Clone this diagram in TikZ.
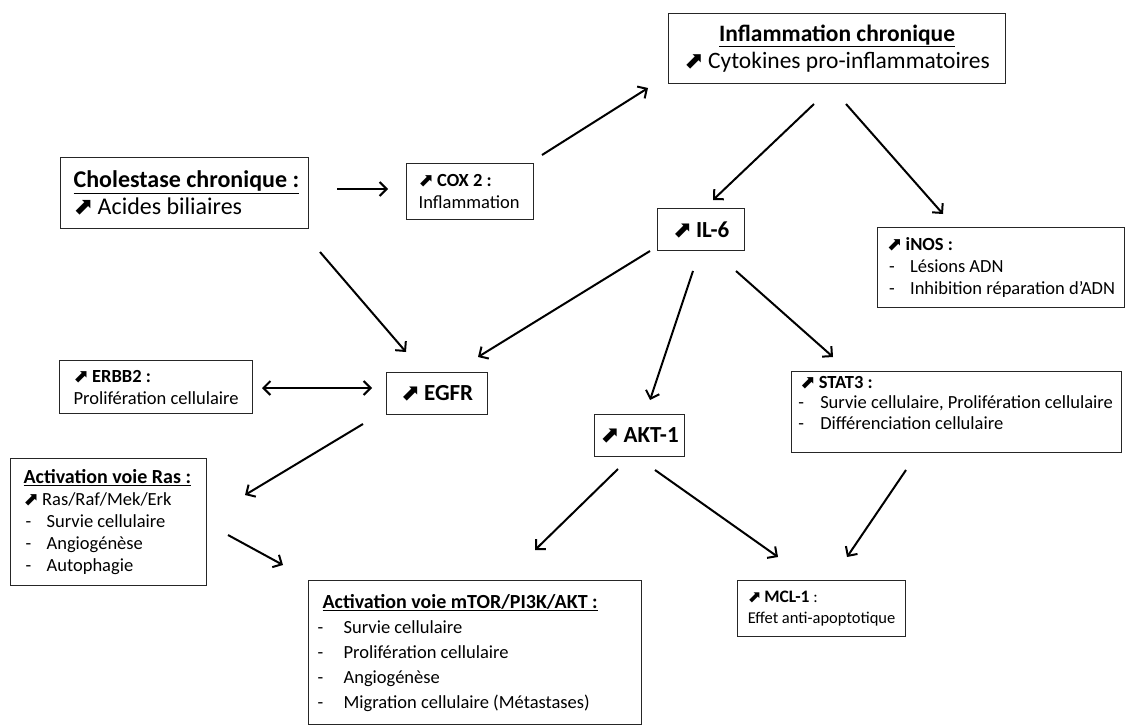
\documentclass[tikz,border=0pt]{standalone}
\usepackage{fontspec}
\setmainfont{Carlito}
\newfontfamily\symfont{DejaVu Sans}
\usetikzlibrary{arrows.meta}
\newcommand{\upar}{{\symfont ⬈}\,}
\newcommand{\fontXL}{\fontsize{24}{27}\selectfont}
\newcommand{\fontL}{\fontsize{23.5}{27}\selectfont}
\newcommand{\fontB}{\fontsize{23}{27}\selectfont}
\newcommand{\fontM}{\fontsize{20}{25}\selectfont}
\newcommand{\fontS}{\fontsize{18.5}{22}\selectfont}
\newcommand{\itm}{\hspace*{2pt}\makebox[21pt][l]{-}}
\begin{document}
\begin{tikzpicture}[x=1pt,y=-1pt,
  box/.style={draw=black!85, line width=1.2pt, anchor=north west, inner ysep=0pt, align=flush left},
  conn/.style={line width=2pt, -{Straight Barb[length=7pt,width=14pt]}},
  conn2/.style={line width=2pt, {Straight Barb[length=7pt,width=14pt]}-{Straight Barb[length=7pt,width=14pt]}}]
\useasboundingbox (0,0) rectangle (1130,725);

\node[box, font=\fontXL, inner xsep=13pt, text width=222pt, minimum height=71pt] (chol) at (60,157)
  {\underline{\textbf{Cholestase chronique :}}\\ \upar Acides biliaires};
\node[box, font=\fontS, inner xsep=12pt, text width=103pt, minimum height=56pt] (cox) at (406,163)
  {\upar\textbf{COX 2 :}\\ Inflammation};
\node[box, font=\fontL, align=flush center, inner xsep=4pt, text width=329pt, minimum height=70pt] (infl) at (668,13)
  {\underline{\textbf{Inflammation chronique}}\\ \upar Cytokines pro-inflammatoires};
\node[box, font=\fontB, align=flush center, inner xsep=2pt, text width=83pt, minimum height=42pt] (il6) at (657,208)
  {\upar\textbf{IL-6}};
\node[box, font=\fontS, inner xsep=8pt, minimum width=247pt, minimum height=80pt] (inos) at (877,227)
  {\upar\textbf{iNOS :}\\ \itm Lésions ADN\\ \itm Inhibition réparation d’ADN};
\node[box, font=\fontS, inner xsep=8pt, minimum width=193pt, minimum height=53pt] (erbb) at (59,360)
  {\upar\textbf{ERBB2 :}\\ Prolifération cellulaire};
\node[box, font=\fontB, align=flush center, inner xsep=2pt, text width=97pt, minimum height=42pt] (egfr) at (386,372)
  {\upar\textbf{EGFR}};
\node[box, font=\fontB, align=flush center, inner xsep=2pt, text width=86pt, minimum height=42pt] (akt) at (594,414)
  {\upar\textbf{AKT-1}};
\node[box, font=\fontsize{18.5}{20.5}\selectfont, inner xsep=8pt, minimum width=330pt, minimum height=81pt, text depth=19pt] (stat) at (791,371)
  {\upar\textbf{STAT3 :}\\ \hspace*{-2pt}\makebox[22pt][l]{-}Survie cellulaire, Prolifération cellulaire\\ \hspace*{-2pt}\makebox[22pt][l]{-}Différenciation cellulaire};
\node[box, font=\fontS, inner xsep=13pt, text width=170pt, minimum height=127pt] (ras) at (10,458)
  {{\fontM\underline{\textbf{Activation voie Ras :}}}\\ \upar Ras/Raf/Mek/Erk\\ \itm Survie cellulaire\\ \itm Angiogénèse\\ \itm Autophagie};
\node[box, font=\fontsize{18.5}{25}\selectfont, inner xsep=14pt, text width=305pt, minimum height=144pt] (mtor) at (308,580)
  {{\fontM\underline{\textbf{Activation voie mTOR/PI3K/AKT :}}}\\
   \hspace*{-5pt}\makebox[26pt][l]{-}Survie cellulaire\\
   \hspace*{-5pt}\makebox[26pt][l]{-}Prolifération cellulaire\\
   \hspace*{-5pt}\makebox[26pt][l]{-}Angiogénèse\\
   \hspace*{-5pt}\makebox[26pt][l]{-}Migration cellulaire (Métastases)};
\node[box, font=\fontsize{16.5}{21}\selectfont, inner xsep=6pt, minimum width=168pt, minimum height=56pt] (mcl) at (737,580)
  {\upar{\fontsize{17.5}{21}\selectfont\textbf{MCL-1}} :\\ Effet anti-apoptotique};

% connector end points
\coordinate (a1s) at (337,189); \coordinate (a1e) at (388,189);
\coordinate (a2s) at (542,155); \coordinate (a2e) at (648,88);
\coordinate (a3s) at (814,104); \coordinate (a3e) at (713,200);
\coordinate (a4s) at (846,104); \coordinate (a4e) at (943,214);
\coordinate (a5s) at (650,251); \coordinate (a5e) at (478,357);
\coordinate (a6s) at (693,271); \coordinate (a6e) at (650,400);
\coordinate (a7s) at (736,271); \coordinate (a7e) at (833,357);
\coordinate (a8s) at (320,252); \coordinate (a8e) at (406,352);
\coordinate (a9s) at (262,388); \coordinate (a9e) at (372,388);
\coordinate (a10s) at (363,424); \coordinate (a10e) at (245,495);
\coordinate (a11s) at (228,535); \coordinate (a11e) at (283,565);
\coordinate (a12s) at (618,469); \coordinate (a12e) at (535,550);
\coordinate (a13s) at (655,470); \coordinate (a13e) at (778,557);
\coordinate (a14s) at (906,470); \coordinate (a14e) at (847,557);

\draw[conn] (a1s) -- (a1e);
\draw[conn] (a2s) -- (a2e);
\draw[conn] (a3s) -- (a3e);
\draw[conn] (a4s) -- (a4e);
\draw[conn] (a5s) -- (a5e);
\draw[conn] (a6s) -- (a6e);
\draw[conn] (a7s) -- (a7e);
\draw[conn] (a8s) -- (a8e);
\draw[conn2] (a9s) -- (a9e);
\draw[conn] (a10s) -- (a10e);
\draw[conn] (a11s) -- (a11e);
\draw[conn] (a12s) -- (a12e);
\draw[conn] (a13s) -- (a13e);
\draw[conn] (a14s) -- (a14e);
\end{tikzpicture}
\end{document}
